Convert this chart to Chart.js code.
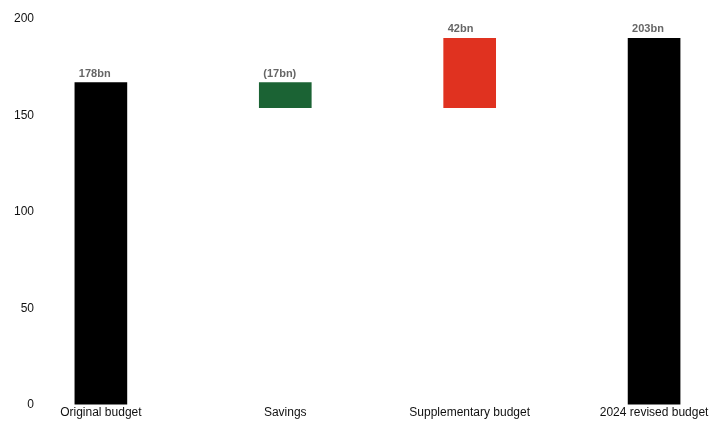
<!DOCTYPE html>
<html>
<head>
<meta charset="utf-8">
<script src="https://cdn.jsdelivr.net/npm/chart.js@4"></script>
<style>
  html, body { margin: 0; padding: 0; background: #fff; }
</style>
</head>
<body>
<canvas id="chart" width="726" height="421"></canvas>
<script>
// waterfall steps: each bar runs from start to end
const categories = ['Original budget', 'Savings', 'Supplementary budget', '2024 revised budget'];
const barStarts = [0, 154, 154, 0];
const barEnds = [167, 167, 190, 190];
const valueLabels = ['178bn', '(17bn)', '42bn', '203bn'];
const barColors = ['#000000', '#1b6334', '#e03220', '#000000'];
const yTicks = [0, 50, 100, 150, 200];

const valueLabelPlugin = {
    id: 'valueLabels',
    afterDatasetsDraw(chart) {
        const ctx = chart.ctx;
        const meta = chart.getDatasetMeta(0);
        ctx.save();
        ctx.font = 'bold 11px "Liberation Sans", Arial, sans-serif';
        ctx.fillStyle = '#666666';
        ctx.textAlign = 'left';
        ctx.textBaseline = 'alphabetic';
        meta.data.forEach((bar, i) => {
            const left = bar.x - bar.width / 2;
            const top = Math.min(bar.y, bar.base);
            ctx.fillText(valueLabels[i], left + 4, top - 6);
        });
        ctx.restore();
    }
};

new Chart(document.getElementById('chart').getContext('2d'), {
    type: 'bar',
    data: {
        datasets: [{
            data: categories.map((c, i) => ({ x: i, y: [barStarts[i], barEnds[i]] })),
            backgroundColor: barColors,
            borderWidth: 0,
            barThickness: 52
        }]
    },
    options: {
        responsive: false,
        animation: false,
        layout: { padding: { top: 19, right: 0, bottom: 0, left: 8 } },
        plugins: {
            legend: { display: false },
            tooltip: { enabled: false }
        },
        scales: {
            x: {
                type: 'linear',
                offset: false,
                min: -0.33,
                max: 3.39,
                grid: { display: false, drawTicks: false },
                border: { display: false },
                afterBuildTicks(axis) {
                    axis.ticks = categories.map((c, i) => ({ value: i }));
                },
                ticks: {
                    autoSkip: false,
                    maxRotation: 0,
                    color: '#111',
                    font: { family: '"Liberation Sans", Arial, sans-serif', size: 12 },
                    padding: 1,
                    callback: (v) => categories[v]
                }
            },
            y: {
                min: 0,
                max: 200,
                grid: { display: false, drawTicks: false },
                border: { display: false },
                afterBuildTicks(axis) {
                    axis.ticks = yTicks.map(v => ({ value: v }));
                },
                ticks: {
                    color: '#111',
                    font: { family: '"Liberation Sans", Arial, sans-serif', size: 12 },
                    padding: 6
                }
            }
        }
    },
    plugins: [valueLabelPlugin]
});
</script>
</body>
</html>
